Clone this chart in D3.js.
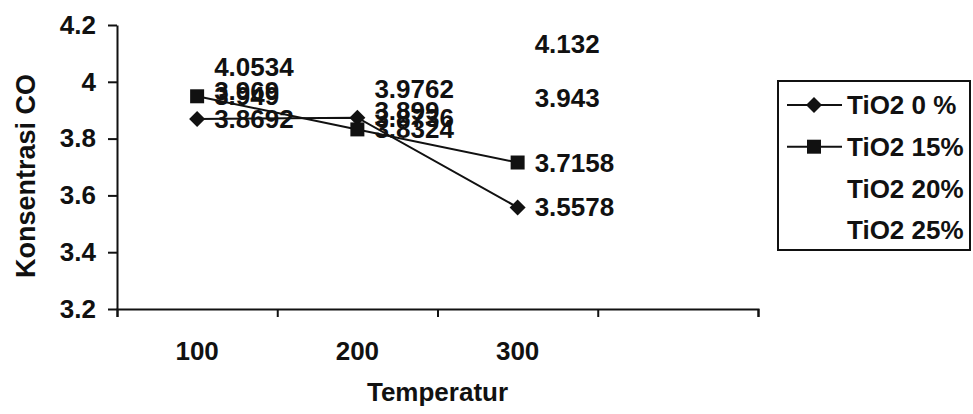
<!doctype html>
<html>
<head>
<meta charset="utf-8">
<script src="https://d3js.org/d3.v7.min.js"></script>
<style>
  body { margin: 0; background: #fff; }
  svg text { font-family: "Liberation Sans", Arial, sans-serif; font-weight: bold; fill: #111; }
</style>
</head>
<body>
<svg class="chart"></svg>
<script>
    // values
    var categories = ["100", "200", "300", ""];
    var seriesNames = ["TiO2 0 %", "TiO2 15%", "TiO2 20%", "TiO2 25%"];
    var tio2_0 = [3.8692, 3.8736, 3.5578];
    var tio2_15 = [3.949, 3.8324, 3.7158];
    var tio2_20 = [4.0534, 3.9762, 4.132];
    var tio2_25 = [3.969, 3.899, 3.943];
    var yTicks = [3.2, 3.4, 3.6, 3.8, 4, 4.2];

    var width = 973, height = 414;
    var plotLeft = 117, plotRight = 758, plotTop = 25, plotBottom = 309;

    var svg = d3.select(".chart").attr("width", width).attr("height", height);

    var x = d3.scaleBand().domain(categories).range([plotLeft, plotRight]);
    var xEdge = d3.scaleLinear().domain([0, categories.length]).range([plotLeft, plotRight]);
    var y = d3.scaleLinear().domain([3.2, 4.2]).range([plotBottom, plotTop]);

    var series = [
        {name: seriesNames[0], values: tio2_0, marker: "diamond", visible: true},
        {name: seriesNames[1], values: tio2_15, marker: "square", visible: true},
        {name: seriesNames[2], values: tio2_20, marker: null, visible: false},
        {name: seriesNames[3], values: tio2_25, marker: null, visible: false}
    ];

    function cx(i) { return x(categories[i]) + x.bandwidth() / 2; }

    function markerPath(type) {
        if (type == "diamond") return "M0,-8 L8,0 L0,8 L-8,0 Z";
        if (type == "square") return "M-7,-7 H7 V7 H-7 Z";
        return "";
    }

    // y axis
    var yAxis = svg.append("g")
        .attr("transform", `translate(${plotLeft},0)`)
        .call(d3.axisLeft(y).tickValues(yTicks).tickSize(9).tickSizeOuter(0).tickPadding(12)
            .tickFormat(d => String(+d.toFixed(1))));
    yAxis.selectAll("text").style("font-size", "26px");

    // x axis: labels at band centres, ticks on band edges
    var xAxis = svg.append("g")
        .attr("transform", `translate(0,${plotBottom})`)
        .call(d3.axisBottom(x).tickSize(0).tickPadding(33).tickSizeOuter(0));
    xAxis.selectAll("text").style("font-size", "26px");
    xAxis.select(".domain").remove();

    svg.append("g")
        .attr("transform", `translate(0,${plotBottom})`)
        .call(d3.axisBottom(xEdge).ticks(categories.length).tickSize(8).tickSizeOuter(8).tickFormat(""));

    svg.selectAll(".domain, .tick line").attr("stroke", "#111").attr("stroke-width", 2);

    // axis titles
    svg.append("text")
        .attr("x", (plotLeft + plotRight) / 2)
        .attr("y", 401)
        .attr("text-anchor", "middle")
        .style("font-size", "26px")
        .text("Temperatur");

    svg.append("text")
        .attr("transform", "translate(35,176) rotate(-90)")
        .attr("text-anchor", "middle")
        .style("font-size", "27px")
        .text("Konsentrasi CO");

    // lines and markers
    var line = d3.line().x((d, i) => cx(i)).y(d => y(d));

    series.filter(s => s.visible).forEach(function(s) {
        svg.append("path")
            .attr("d", line(s.values))
            .attr("fill", "none")
            .attr("stroke", "#111")
            .attr("stroke-width", 2);
        svg.selectAll(null)
            .data(s.values)
            .enter().append("path")
            .attr("d", markerPath(s.marker))
            .attr("transform", (d, i) => `translate(${cx(i)},${y(d)})`)
            .attr("fill", "#111");
    });

    // data labels for every series
    series.forEach(function(s) {
        svg.selectAll(null)
            .data(s.values)
            .enter().append("text")
            .attr("x", (d, i) => cx(i) + 17)
            .attr("y", d => y(d))
            .attr("dy", "0.35em")
            .style("font-size", "26px")
            .text(d => d);
    });

    // legend
    var legend = svg.append("g").attr("transform", "translate(778,81)");
    legend.append("rect")
        .attr("width", 192).attr("height", 169)
        .attr("fill", "none").attr("stroke", "#111").attr("stroke-width", 2);

    var rows = legend.selectAll(".row")
        .data(series)
        .enter().append("g")
        .attr("transform", (d, i) => `translate(0,${24 + i * 41.7})`);

    rows.filter(d => d.visible).append("line")
        .attr("x1", 9).attr("x2", 64)
        .attr("stroke", "#111").attr("stroke-width", 2);
    rows.filter(d => d.visible).append("path")
        .attr("d", d => markerPath(d.marker))
        .attr("transform", "translate(36,0)")
        .attr("fill", "#111");
    rows.append("text")
        .attr("x", 69)
        .attr("dy", "0.35em")
        .style("font-size", "26px")
        .text(d => d.name);
</script>
</body>
</html>
